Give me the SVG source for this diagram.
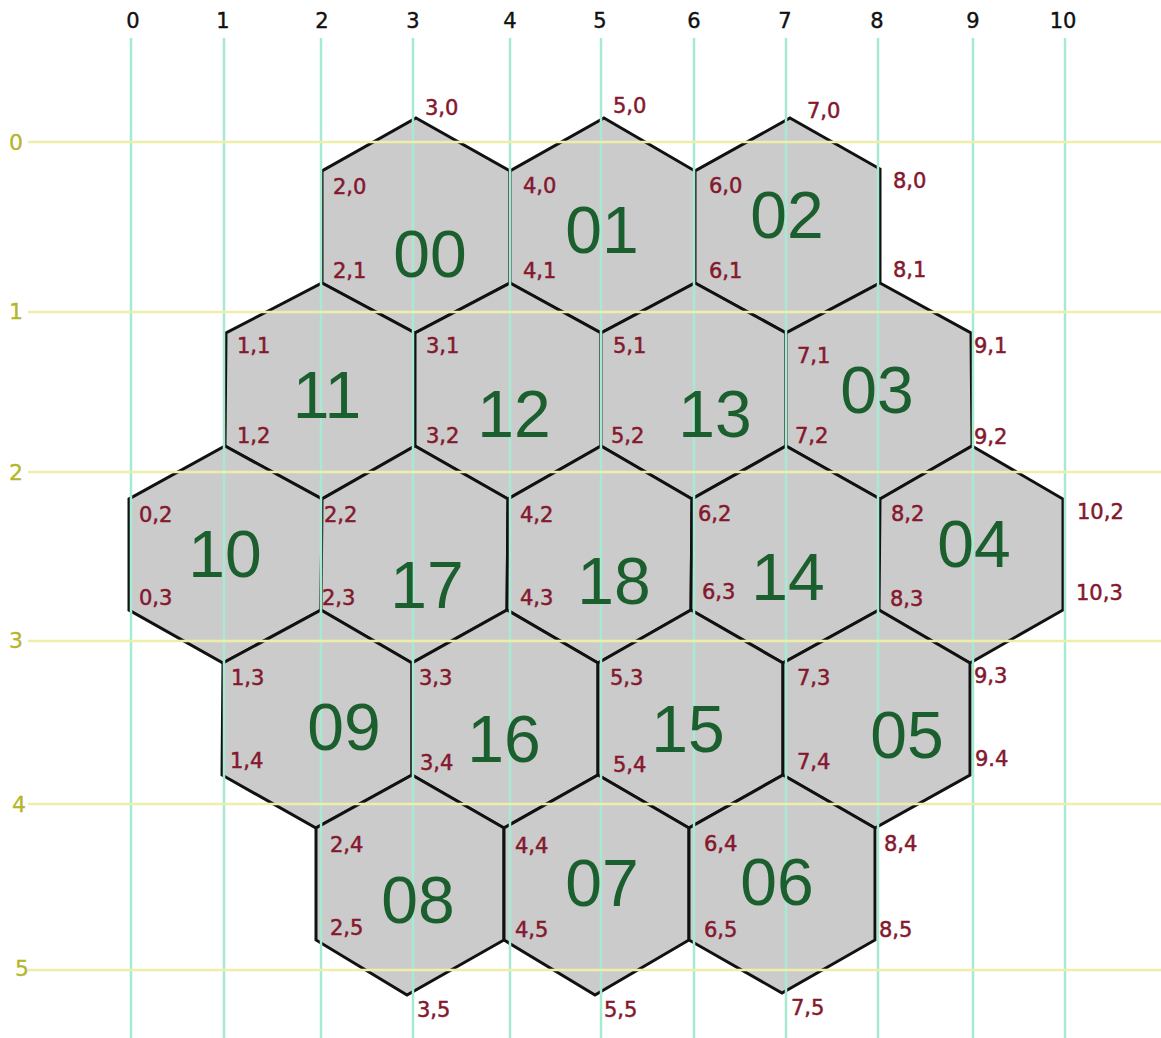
<svg xmlns="http://www.w3.org/2000/svg" width="1161" height="1038" viewBox="0 0 1161 1038">
<style>
.hex{fill:#cbcbcb;stroke:#111;stroke-width:3;stroke-linejoin:miter}
.num{font-family:"Liberation Sans",Arial,sans-serif;font-size:66px;fill:#1b5f2e;text-anchor:middle}
.vl{font-family:"DejaVu Sans",Verdana,sans-serif;font-size:21px;fill:#84182d;stroke:#84182d;stroke-width:0.5}
.col{font-family:"DejaVu Sans",Verdana,sans-serif;font-size:21px;fill:#111;stroke:#111;stroke-width:0.4;text-anchor:middle}
.row{font-family:"DejaVu Sans",Verdana,sans-serif;font-size:22px;fill:#b5b52c;stroke:#b5b52c;stroke-width:0.3;text-anchor:middle}
.gv{stroke:#a6ead1;stroke-width:2.5}
.gh{stroke:#eeeeac;stroke-width:2.5}
</style>
<rect width="1161" height="1038" fill="#ffffff"/>
<g id="hexes">
<g id="hex-00"><polygon class="hex" points="416,118 510,171 510,283 415,333 322,283 322,171"/></g>
<g id="hex-01"><polygon class="hex" points="604,118 695,171 695,283 601,333 510,283 510,171"/></g>
<g id="hex-02"><polygon class="hex" points="790,118 880,169 880,283 786,333 695,283 695,171"/></g>
<g id="hex-11"><polygon class="hex" points="322,283 415,333 415,446 322,499 225,446 226,333"/></g>
<g id="hex-12"><polygon class="hex" points="510,283 601,333 601,446 508,499 415,446 415,333"/></g>
<g id="hex-13"><polygon class="hex" points="695,283 786,333 786,446 692,499 601,446 601,333"/></g>
<g id="hex-03"><polygon class="hex" points="880,283 971,333 972,446 880,499 786,446 786,333"/></g>
<g id="hex-10"><polygon class="hex" points="225,446 322,499 321,610 223,663 129,610 129,499"/></g>
<g id="hex-17"><polygon class="hex" points="415,446 508,499 507,610 412,663 321,610 322,499"/></g>
<g id="hex-18"><polygon class="hex" points="601,446 692,499 691,610 598,663 507,610 508,499"/></g>
<g id="hex-14"><polygon class="hex" points="786,446 880,499 879,610 783,663 691,610 692,499"/></g>
<g id="hex-04"><polygon class="hex" points="972,446 1063,499 1063,610 970,663 879,610 880,499"/></g>
<g id="hex-09"><polygon class="hex" points="321,610 412,663 412,775 316,828 222,775 223,663"/></g>
<g id="hex-16"><polygon class="hex" points="507,610 598,663 598,775 504,828 412,775 412,663"/></g>
<g id="hex-15"><polygon class="hex" points="691,610 783,663 783,775 689,828 598,775 598,663"/></g>
<g id="hex-05"><polygon class="hex" points="879,610 970,663 970,775 875,828 783,775 783,663"/></g>
<g id="hex-08"><polygon class="hex" points="412,775 504,828 504,940 407,995 316,940 316,828"/></g>
<g id="hex-07"><polygon class="hex" points="598,775 689,828 689,940 595,995 504,940 504,828"/></g>
<g id="hex-06"><polygon class="hex" points="783,775 875,828 875,940 782,993 689,940 689,828"/></g>
</g>
<g id="connectors">
<g id="grid-vertical">
<line class="gv" x1="131" y1="38" x2="131" y2="1038"/>
<line class="gv" x1="224" y1="38" x2="224" y2="1038"/>
<line class="gv" x1="321" y1="38" x2="321" y2="1038"/>
<line class="gv" x1="413" y1="38" x2="413" y2="1038"/>
<line class="gv" x1="510" y1="38" x2="510" y2="1038"/>
<line class="gv" x1="601" y1="38" x2="601" y2="1038"/>
<line class="gv" x1="694" y1="38" x2="694" y2="1038"/>
<line class="gv" x1="786" y1="38" x2="786" y2="1038"/>
<line class="gv" x1="878" y1="38" x2="878" y2="1038"/>
<line class="gv" x1="973" y1="38" x2="973" y2="1038"/>
<line class="gv" x1="1065" y1="38" x2="1065" y2="1038"/>
</g>
<g id="grid-horizontal">
<line class="gh" x1="28" y1="142" x2="1161" y2="142"/>
<line class="gh" x1="28" y1="312" x2="1161" y2="312"/>
<line class="gh" x1="28" y1="472" x2="1161" y2="472"/>
<line class="gh" x1="28" y1="641" x2="1161" y2="641"/>
<line class="gh" x1="28" y1="804" x2="1161" y2="804"/>
<line class="gh" x1="28" y1="970" x2="1161" y2="970"/>
</g>
</g>
<g id="hex-numbers">
<text id="hex-00-label" class="num" x="430" y="277">00</text>
<text id="hex-01-label" class="num" x="602" y="253">01</text>
<text id="hex-02-label" class="num" x="787" y="238">02</text>
<text id="hex-11-label" class="num" x="327" y="418">11</text>
<text id="hex-12-label" class="num" x="514" y="437">12</text>
<text id="hex-13-label" class="num" x="715" y="437">13</text>
<text id="hex-03-label" class="num" x="877" y="413">03</text>
<text id="hex-10-label" class="num" x="225" y="577">10</text>
<text id="hex-17-label" class="num" x="427" y="608">17</text>
<text id="hex-18-label" class="num" x="614" y="604">18</text>
<text id="hex-14-label" class="num" x="788" y="600">14</text>
<text id="hex-04-label" class="num" x="974" y="567">04</text>
<text id="hex-09-label" class="num" x="344" y="750">09</text>
<text id="hex-16-label" class="num" x="504" y="762">16</text>
<text id="hex-15-label" class="num" x="688" y="752">15</text>
<text id="hex-05-label" class="num" x="907" y="758">05</text>
<text id="hex-08-label" class="num" x="418" y="923">08</text>
<text id="hex-07-label" class="num" x="602" y="906">07</text>
<text id="hex-06-label" class="num" x="777" y="905">06</text>
</g>
<g id="column-labels">
<text class="col" x="133" y="28">0</text>
<text class="col" x="223" y="28">1</text>
<text class="col" x="322" y="28">2</text>
<text class="col" x="413" y="28">3</text>
<text class="col" x="510" y="28">4</text>
<text class="col" x="600" y="28">5</text>
<text class="col" x="694" y="28">6</text>
<text class="col" x="785" y="28">7</text>
<text class="col" x="877" y="28">8</text>
<text class="col" x="973" y="28">9</text>
<text class="col" x="1063" y="28">10</text>
</g>
<g id="row-labels">
<text class="row" x="16" y="150">0</text>
<text class="row" x="16" y="319">1</text>
<text class="row" x="16" y="480">2</text>
<text class="row" x="16" y="648">3</text>
<text class="row" x="19" y="812">4</text>
<text class="row" x="22" y="976">5</text>
</g>
<g id="vertex-labels">
<text class="vl" x="425" y="115">3,0</text>
<text class="vl" x="613" y="113">5,0</text>
<text class="vl" x="807" y="118">7,0</text>
<text class="vl" x="333" y="194">2,0</text>
<text class="vl" x="523" y="193">4,0</text>
<text class="vl" x="709" y="193">6,0</text>
<text class="vl" x="893" y="188">8,0</text>
<text class="vl" x="333" y="278">2,1</text>
<text class="vl" x="523" y="278">4,1</text>
<text class="vl" x="709" y="278">6,1</text>
<text class="vl" x="893" y="277">8,1</text>
<text class="vl" x="237" y="353">1,1</text>
<text class="vl" x="426" y="353">3,1</text>
<text class="vl" x="613" y="353">5,1</text>
<text class="vl" x="797" y="363">7,1</text>
<text class="vl" x="974" y="353">9,1</text>
<text class="vl" x="237" y="443">1,2</text>
<text class="vl" x="426" y="443">3,2</text>
<text class="vl" x="611" y="443">5,2</text>
<text class="vl" x="795" y="443">7,2</text>
<text class="vl" x="974" y="444">9,2</text>
<text class="vl" x="139" y="522">0,2</text>
<text class="vl" x="324" y="522">2,2</text>
<text class="vl" x="520" y="522">4,2</text>
<text class="vl" x="698" y="521">6,2</text>
<text class="vl" x="891" y="521">8,2</text>
<text class="vl" x="1077" y="519">10,2</text>
<text class="vl" x="139" y="605">0,3</text>
<text class="vl" x="322" y="605">2,3</text>
<text class="vl" x="520" y="605">4,3</text>
<text class="vl" x="702" y="599">6,3</text>
<text class="vl" x="890" y="606">8,3</text>
<text class="vl" x="1076" y="600">10,3</text>
<text class="vl" x="231" y="685">1,3</text>
<text class="vl" x="419" y="685">3,3</text>
<text class="vl" x="610" y="685">5,3</text>
<text class="vl" x="797" y="685">7,3</text>
<text class="vl" x="974" y="683">9,3</text>
<text class="vl" x="230" y="768">1,4</text>
<text class="vl" x="420" y="770">3,4</text>
<text class="vl" x="613" y="772">5,4</text>
<text class="vl" x="797" y="769">7,4</text>
<text class="vl" x="975" y="766">9.4</text>
<text class="vl" x="330" y="852">2,4</text>
<text class="vl" x="515" y="853">4,4</text>
<text class="vl" x="704" y="851">6,4</text>
<text class="vl" x="884" y="851">8,4</text>
<text class="vl" x="330" y="935">2,5</text>
<text class="vl" x="515" y="937">4,5</text>
<text class="vl" x="704" y="937">6,5</text>
<text class="vl" x="879" y="937">8,5</text>
<text class="vl" x="417" y="1017">3,5</text>
<text class="vl" x="604" y="1017">5,5</text>
<text class="vl" x="791" y="1015">7,5</text>
</g>
</svg>
